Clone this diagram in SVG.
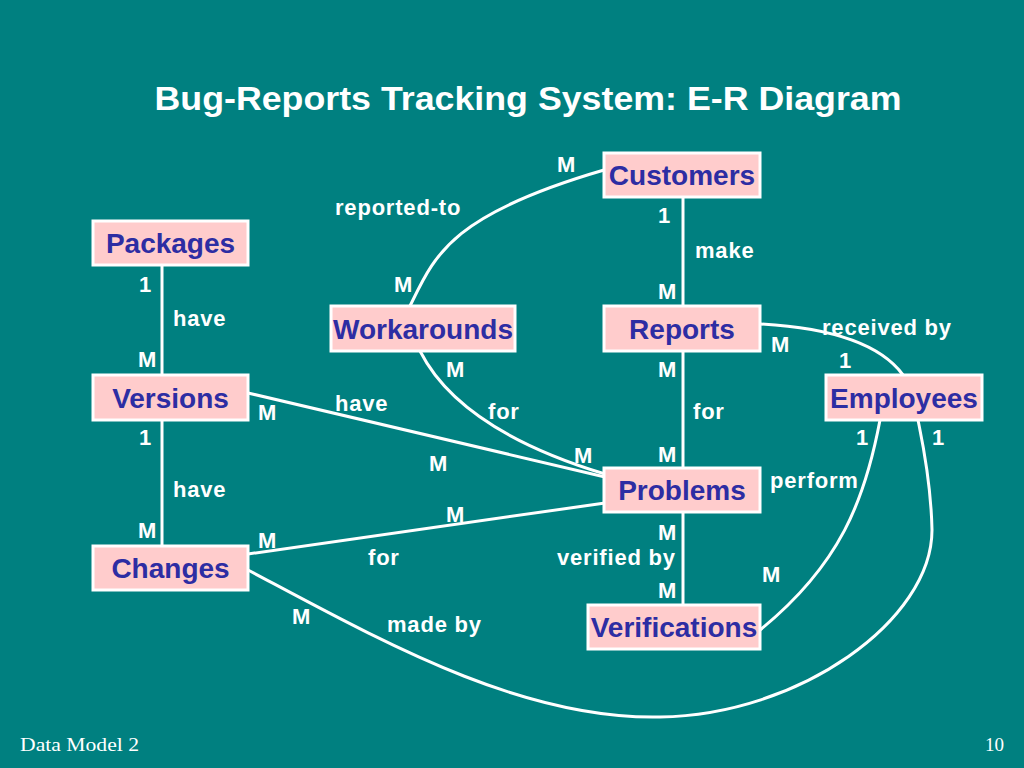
<svg xmlns="http://www.w3.org/2000/svg" width="1024" height="768" viewBox="0 0 1024 768">
<style>
.box{fill:#FFCCCC;stroke:#FFFFFF;stroke-width:3}
.bt{font-family:"Liberation Sans",Arial,sans-serif;font-weight:bold;font-size:28px;fill:#2D2DA3;text-anchor:middle}
.lb{font-family:"Liberation Sans",Arial,sans-serif;font-weight:bold;font-size:22px;fill:#FFFFFF;letter-spacing:0.8px}
.cn{fill:none;stroke:#FFFFFF;stroke-width:3}
.ft{font-family:"Liberation Serif","Times New Roman",serif;font-size:19px;fill:#FFFFFF}
</style>
<rect x="0" y="0" width="1024" height="768" fill="#008080"/>
<text x="528" y="110" font-family="'Liberation Sans',Arial,sans-serif" font-weight="bold" font-size="33" fill="#FFFFFF" text-anchor="middle" textLength="747" lengthAdjust="spacingAndGlyphs">Bug-Reports Tracking System: E-R Diagram</text>
<g id="connectors">
<line class="cn" x1="162" y1="265" x2="162" y2="375"/>
<line class="cn" x1="162" y1="420" x2="162" y2="546"/>
<line class="cn" x1="683" y1="197" x2="683" y2="306"/>
<line class="cn" x1="683" y1="351" x2="683" y2="468"/>
<line class="cn" x1="683" y1="512" x2="683" y2="605"/>
<line class="cn" x1="248" y1="393" x2="605" y2="477"/>
<line class="cn" x1="248" y1="554" x2="605" y2="503"/>
<path class="cn" d="M 410 306 C 435 255, 450 215, 604 170"/>
<path class="cn" d="M 420 351 Q 460 430, 605 474"/>
<path class="cn" d="M 760 324 Q 870 330, 903 375"/>
<path class="cn" d="M 880 420 C 865 500, 840 565, 760 630"/>
<path class="cn" d="M 248 570 C 380 640, 520 720, 660 717 C 800 715, 932 620, 932 530 C 931 480, 922 440, 918 420"/>
</g>
<g id="customers"><rect class="box" x="604" y="153" width="156" height="44"/><text class="bt" x="682" y="185">Customers</text></g>
<g id="packages"><rect class="box" x="93" y="221" width="155" height="44"/><text class="bt" x="170.5" y="253">Packages</text></g>
<g id="workarounds"><rect class="box" x="331" y="306" width="184" height="45"/><text class="bt" x="423" y="339">Workarounds</text></g>
<g id="reports"><rect class="box" x="604" y="306" width="156" height="45"/><text class="bt" x="682" y="339">Reports</text></g>
<g id="versions"><rect class="box" x="93" y="375" width="155" height="45"/><text class="bt" x="170.5" y="408">Versions</text></g>
<g id="employees"><rect class="box" x="826" y="375" width="156" height="45"/><text class="bt" x="904" y="408">Employees</text></g>
<g id="problems"><rect class="box" x="604" y="468" width="156" height="44"/><text class="bt" x="682" y="500">Problems</text></g>
<g id="changes"><rect class="box" x="93" y="546" width="155" height="44"/><text class="bt" x="170.5" y="578">Changes</text></g>
<g id="verifications"><rect class="box" x="588" y="605" width="172" height="44"/><text class="bt" x="674" y="637">Verifications</text></g>
<g id="labels">
<text class="lb" x="557" y="172">M</text>
<text class="lb" x="335" y="215">reported-to</text>
<text class="lb" x="658" y="223">1</text>
<text class="lb" x="695" y="258">make</text>
<text class="lb" x="139" y="292">1</text>
<text class="lb" x="173" y="326">have</text>
<text class="lb" x="394" y="292">M</text>
<text class="lb" x="658" y="299">M</text>
<text class="lb" x="138" y="367">M</text>
<text class="lb" x="822" y="335">received by</text>
<text class="lb" x="771" y="352">M</text>
<text class="lb" x="839" y="368">1</text>
<text class="lb" x="446" y="377">M</text>
<text class="lb" x="658" y="377">M</text>
<text class="lb" x="258" y="420">M</text>
<text class="lb" x="335" y="411">have</text>
<text class="lb" x="488" y="419">for</text>
<text class="lb" x="693" y="419">for</text>
<text class="lb" x="139" y="445">1</text>
<text class="lb" x="856" y="445">1</text>
<text class="lb" x="932" y="445">1</text>
<text class="lb" x="429" y="471">M</text>
<text class="lb" x="574" y="463">M</text>
<text class="lb" x="658" y="462">M</text>
<text class="lb" x="173" y="497">have</text>
<text class="lb" x="770" y="488">perform</text>
<text class="lb" x="446" y="522">M</text>
<text class="lb" x="138" y="538">M</text>
<text class="lb" x="258" y="548">M</text>
<text class="lb" x="658" y="540">M</text>
<text class="lb" x="368" y="565">for</text>
<text class="lb" x="557" y="565">verified by</text>
<text class="lb" x="762" y="582">M</text>
<text class="lb" x="658" y="598">M</text>
<text class="lb" x="292" y="624">M</text>
<text class="lb" x="387" y="632">made by</text>
</g>
<text class="ft" x="20" y="751" textLength="119" lengthAdjust="spacingAndGlyphs">Data Model 2</text>
<text class="ft" x="985" y="751">10</text>
</svg>
